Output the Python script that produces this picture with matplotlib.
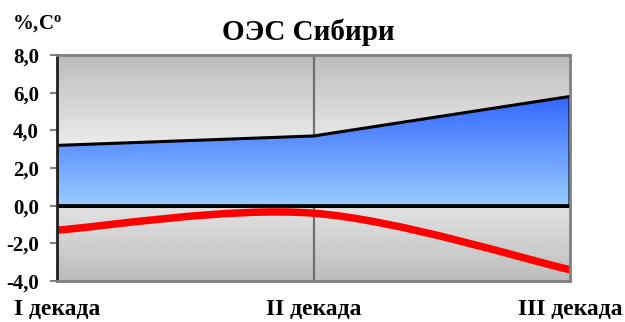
import numpy as np
import matplotlib
matplotlib.use("Agg")
import matplotlib.pyplot as plt
from matplotlib.path import Path
from matplotlib.patches import PathPatch
from matplotlib.colors import LinearSegmentedColormap

# Data
categories = ["I декада", "II декада", "III декада"]
consumption = [3.2, 3.7, 5.8]      # blue area, %
temperature = [-1.3, -0.4, -3.4]   # red line, °C
y_ticks = [8.0, 6.0, 4.0, 2.0, 0.0, -2.0, -4.0]
y_tick_labels = ["8,0", "6,0", "4,0", "2,0", "0,0", "-2,0", "-4,0"]
title = "ОЭС Сибири"
unit_label = r"%,C$^{\mathrm{o}}$"

plt.rcParams["font.family"] = ["Liberation Serif", "DejaVu Serif"]
plt.rcParams["font.weight"] = "bold"
plt.rcParams["mathtext.fontset"] = "custom"
plt.rcParams["mathtext.rm"] = "Liberation Serif:bold"
plt.rcParams["mathtext.it"] = "Liberation Serif:bold"
plt.rcParams["mathtext.bf"] = "Liberation Serif:bold"

W, H = 625, 322
fig = plt.figure(figsize=(W / 100, H / 100), dpi=100)
ax = fig.add_axes([57 / W, (H - 281) / H, (570 - 57) / W, (281 - 55) / H])

x = np.arange(len(categories))
ymin, ymax = min(y_ticks), max(y_ticks)
ax.set_xlim(x[0], x[-1])
ax.set_ylim(ymin, ymax)

# Plot-area background: grey at the edges, near white in the middle
bg = LinearSegmentedColormap.from_list("bg", ["#bcbcbc", "#f7f7f7", "#bcbcbc"])
grad = np.linspace(0, 1, 256).reshape(-1, 1)
ax.imshow(grad, cmap=bg, extent=[x[0], x[-1], ymin, ymax], aspect="auto",
          origin="lower", zorder=0, interpolation="bicubic")

# Vertical separator at the middle category
ax.axvline(x[1], color="#6f6f6f", lw=1.6, zorder=1)

# Blue gradient area
blue = LinearSegmentedColormap.from_list("blue", ["#99ccff", "#3366ff"])
top = max(consumption)
area_verts = [(x[0], 0)] + list(zip(x, consumption)) + [(x[-1], 0), (x[0], 0)]
area_path = Path(area_verts, [Path.MOVETO] + [Path.LINETO] * (len(area_verts) - 2) + [Path.CLOSEPOLY])
im = ax.imshow(grad, cmap=blue, extent=[x[0], x[-1], 0, top], aspect="auto",
               origin="lower", zorder=2, interpolation="bicubic")
clip = PathPatch(area_path, transform=ax.transData, facecolor="none", edgecolor="none")
ax.add_patch(clip)
im.set_clip_path(clip)
ax.add_patch(PathPatch(area_path, facecolor="none", edgecolor="black", lw=2.2, zorder=3))

# Zero line
ax.axhline(0, color="black", lw=2.2, zorder=3)

# Smoothed temperature line (cubic Bezier through the points)
pts = np.column_stack([x, temperature]).astype(float)
n = len(pts)
verts = [tuple(pts[0])]
codes = [Path.MOVETO]
for i in range(n - 1):
    p_prev = pts[i - 1] if i > 0 else pts[i]
    p_next2 = pts[i + 2] if i + 2 < n else pts[i + 1]
    c1 = pts[i] + (pts[i + 1] - p_prev) / 6
    c2 = pts[i + 1] - (p_next2 - pts[i]) / 6
    verts += [tuple(c1), tuple(c2), tuple(pts[i + 1])]
    codes += [Path.CURVE4] * 3
ax.add_patch(PathPatch(Path(verts, codes), facecolor="none", edgecolor="#ff0000",
                       lw=5.4, capstyle="butt", zorder=4, clip_on=False))

# Axes styling
for side in ["top", "right", "bottom"]:
    ax.spines[side].set_color("#808080")
    ax.spines[side].set_linewidth(2)
ax.spines["left"].set_color("#202020")
ax.spines["left"].set_linewidth(2)
for s in ax.spines.values():
    s.set_zorder(5)

ax.set_yticks(y_ticks)
ax.set_yticklabels(y_tick_labels)
ax.tick_params(axis="y", length=5, width=1.5, color="#808080", pad=8,
               labelsize=15)
ax.set_xticks(x)
ax.set_xticklabels(categories)
ax.tick_params(axis="x", length=0, pad=13, labelsize=17)
for lab in ax.get_xticklabels() + ax.get_yticklabels():
    lab.set_fontweight("bold")

fig.text(308 / W, 1 - 40 / H, title, ha="center", va="baseline",
         fontsize=21, fontweight="bold")
fig.text(12 / W, 1 - 29 / H, unit_label, ha="left", va="baseline",
         fontsize=15, fontweight="bold")

fig.savefig("out.png", dpi=100)
